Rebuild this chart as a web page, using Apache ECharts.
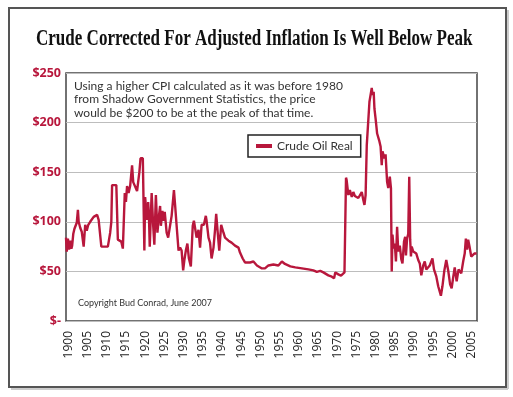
<!DOCTYPE html>
<html>
<head>
<meta charset="utf-8">
<style>
  html, body { margin: 0; padding: 0; background: #fff; }
  #chart { width: 513px; height: 397px; }
</style>
<script src="https://cdn.jsdelivr.net/npm/echarts@6/dist/echarts.min.js"></script>
</head>
<body>
<div id="chart"></div>
<script>
// real crude oil price (inflation adjusted, $)
const years = [
  1899.4, 1899.6, 1899.9, 1900.2, 1900.5, 1900.8, 1901.0, 1901.3, 1901.6, 1901.9,
  1902.2, 1902.5, 1902.7, 1903.1, 1903.5, 1904.0, 1904.4, 1904.8, 1905.2, 1905.7,
  1906.1, 1906.6, 1907.5, 1907.9, 1908.6, 1909.5, 1910.3, 1910.9, 1911.2, 1911.4,
  1912.5, 1912.9, 1913.4, 1913.8, 1914.2, 1914.7, 1915.0, 1915.3, 1915.7, 1916.1,
  1916.6, 1916.9, 1917.4, 1917.9, 1918.5, 1918.8, 1919.1, 1919.4, 1919.8, 1920.0,
  1920.5, 1920.8, 1921.0, 1921.2, 1921.7, 1922.1, 1922.4, 1922.8, 1923.2, 1923.6,
  1923.9, 1924.1, 1924.5, 1924.7, 1925.1, 1925.6, 1926.0, 1926.5, 1926.9, 1927.5,
  1927.8, 1928.2, 1928.7, 1929.1, 1929.5, 1929.9, 1930.2, 1930.6, 1931.0, 1931.4,
  1931.9, 1932.4, 1932.7, 1933.2, 1933.4, 1933.9, 1934.3, 1934.7, 1935.3, 1935.8,
  1936.0, 1936.5, 1936.9, 1937.3, 1937.8, 1938.2, 1938.5, 1938.9, 1939.3, 1939.8,
  1940.1, 1940.4, 1940.8, 1941.7, 1942.5, 1943.4, 1944.3, 1944.7, 1945.4, 1946.0,
  1946.5, 1947.3, 1948.2, 1949.1, 1950.4, 1951.2, 1952.1, 1953.4, 1954.7, 1955.6,
  1956.4, 1957.8, 1959.1, 1960.8, 1962.5, 1963.8, 1964.7, 1965.6, 1966.4, 1967.7,
  1968.6, 1969.2, 1969.5, 1970.3, 1971.0, 1971.9, 1972.25, 1972.3, 1972.46, 1972.9,
  1973.3, 1973.8, 1974.2, 1974.6, 1975.1, 1975.5, 1975.9, 1976.4, 1976.8, 1977.1,
  1977.4, 1977.7, 1978.1, 1978.4, 1978.7, 1979.0, 1979.2, 1979.5, 1979.7, 1980.0,
  1980.4, 1981.0, 1981.3, 1981.6, 1981.8, 1982.3, 1982.6, 1983.0, 1983.3, 1983.7,
  1984.0, 1984.2, 1984.4, 1984.7, 1985.0, 1985.3, 1985.6, 1985.9, 1986.3, 1986.7,
  1987.0, 1987.4, 1987.7, 1987.9, 1988.2, 1988.5, 1988.76, 1989.0, 1989.2, 1989.4,
  1989.8, 1990.2, 1990.6, 1991.1, 1991.5, 1991.9, 1992.4, 1992.8, 1993.2, 1993.7,
  1994.1, 1994.5, 1994.8, 1995.2, 1995.8, 1996.3, 1997.0, 1997.4, 1997.9, 1998.4,
  1998.9, 1999.4, 1999.8, 2000.2, 2000.6, 2001.1, 2001.6, 2002.3, 2002.8, 2003.2,
  2003.5, 2003.8, 2004.1, 2004.5, 2004.9, 2005.3, 2005.7, 2006.3
];
const prices = [
  84, 70, 83, 72, 81, 73, 76, 88, 93, 95,
  99, 112, 100, 94, 90, 75, 97, 91, 97, 100,
  99, 105, 107, 102, 75, 75, 75, 89, 100, 137,
  137, 82, 81, 80, 73, 129, 120, 136, 129, 136,
  157, 140, 141, 131, 150, 164, 165, 164, 71, 125,
  102, 120, 105, 75, 129, 96, 77, 127, 89, 106,
  116, 96, 111, 101, 110, 89, 84, 86, 106, 132,
  117, 96, 71, 74, 71, 51, 61, 71, 78, 63,
  55, 96, 101, 99, 84, 92, 74, 97, 97, 106,
  101, 84, 79, 63, 74, 92, 108, 89, 71, 97,
  95, 89, 84, 81, 79, 76, 74, 69, 63, 59,
  58, 59, 60, 56, 53, 53, 56, 57, 56, 60,
  57.5, 55, 54, 53, 52, 51, 49.5, 50.5, 49, 46,
  44.7, 43, 49, 47, 45.7, 49, 50, 144.5, 142, 127,
  132, 125, 130, 126, 128, 124, 126, 130, 122, 117,
  127, 177, 178, 221, 219, 235, 228, 231, 214, 204,
  189, 181, 176, 157, 171, 164, 168, 140, 134, 145.5,
  134, 50, 87, 73, 78, 60, 95, 70, 76, 62,
  58, 80, 85, 66, 83, 88, 145.5, 82, 65, 75,
  70, 72, 68, 61.5, 58, 46, 56, 60, 52, 50,
  56, 60, 63, 52, 45, 35, 25.5, 35, 51, 61.5,
  51, 37, 33, 44, 54, 40, 52, 48, 60, 68,
  83, 72, 82, 74, 65, 66, 68, 68
];
const yearTicks = [1900, 1905, 1910, 1915, 1920, 1925, 1930, 1935, 1940, 1945, 1950,
  1955, 1960, 1965, 1970, 1975, 1980, 1985, 1990, 1995, 2000, 2005];

const crimson = '#b8173c';
const chart = echarts.init(document.getElementById('chart'));

const option = {
  animation: false,
  backgroundColor: '#fff',
  grid: {
    left: 66, top: 73, width: 411, height: 248,
    show: true, borderColor: '#444', borderWidth: 1.5
  },
  legend: {
    data: ['Crude Oil Real'],
    left: 248, top: 135,
    padding: [5, 8],
    icon: 'rect', itemWidth: 16, itemHeight: 4, itemGap: 5,
    backgroundColor: '#fff', borderColor: '#222', borderWidth: 1.5,
    textStyle: { fontFamily: 'Lato', fontSize: 12, color: '#333' }
  },
  xAxis: {
    type: 'value', min: 1899.4, max: 2006.4,
    axisLine: { show: false }, axisTick: { show: false }, splitLine: { show: false },
    axisLabel: {
      customValues: yearTicks, rotate: 90, margin: 10,
      fontFamily: 'Open Sans', fontSize: 12, color: '#222',
      formatter: v => String(v)
    }
  },
  yAxis: {
    type: 'value', min: 0, max: 250, interval: 50,
    axisLine: { show: false }, axisTick: { show: false },
    splitLine: { lineStyle: { color: '#bdbdbd', width: 1 } },
    axisLabel: {
      margin: 5, fontFamily: 'Open Sans', fontWeight: 'bold', fontSize: 12.5, color: crimson,
      formatter: v => v === 0 ? '$-' : '$' + v
    }
  },
  series: [{
    name: 'Crude Oil Real', type: 'line',
    data: years.map((y, i) => [y, prices[i]]),
    showSymbol: false, color: crimson,
    lineStyle: { width: 2.4, color: crimson }
  }],
  graphic: [
    { type: 'line', shape: { x1: 508, y1: 10, x2: 508, y2: 389 }, style: { stroke: '#ccc', lineWidth: 2 } },
    { type: 'line', shape: { x1: 11, y1: 389, x2: 508, y2: 389 }, style: { stroke: '#ccc', lineWidth: 2 } },
    { type: 'rect', shape: { x: 9, y: 8, width: 497, height: 379 }, style: { fill: 'none', stroke: '#555', lineWidth: 2 } },
    {
      type: 'text', x: 36, y: 39, scaleX: 0.74,
      style: {
        text: 'Crude Corrected For Adjusted Inflation Is Well Below Peak',
        font: 'bold 23px "Liberation Serif"', fill: '#111', verticalAlign: 'middle'
      }
    },
    {
      type: 'text', x: 74, y: 79,
      style: {
        text: 'Using a higher CPI calculated as it was before 1980\nfrom Shadow Government Statistics, the price\nwould be $200 to be at the peak of that time.',
        font: '12px Lato', fill: '#333', lineHeight: 13.5, verticalAlign: 'top'
      }
    },
    {
      type: 'text', x: 78, y: 303, scaleX: 0.9,
      style: {
        text: 'Copyright Bud Conrad, June 2007',
        font: '10px Lato', fill: '#333', verticalAlign: 'middle'
      }
    }
  ]
};

chart.setOption(option);
</script>
</body>
</html>
